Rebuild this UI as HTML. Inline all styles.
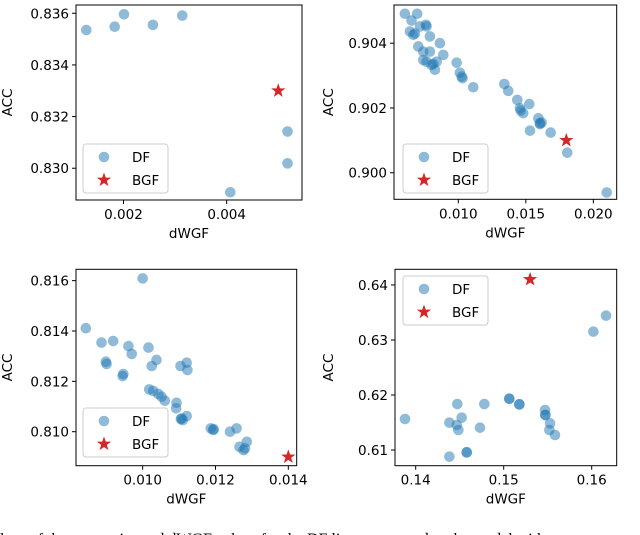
<!DOCTYPE html>
<html><head><meta charset="utf-8">
<style>
html,body{margin:0;padding:0;background:#fff;width:640px;height:535px;overflow:hidden}
svg{display:block}
text{font-family:"DejaVu Sans","Liberation Sans",sans-serif;fill:#000}
.cap{font-family:"Liberation Serif",serif;font-size:16px}
</style></head>
<body>
<svg id="fig" width="640" height="535" viewBox="0 0 640 535">
<text class="cap" x="0" y="544">lues of the accuracies and dWGF values for the DF lines compared to the model with</text>
</svg>
<script>
// Panel 1 data
const p1DfX=[0.00128,0.00183,0.00201,0.00257,0.00314,0.00518,0.00518,0.00407];
const p1DfY=[0.83535,0.83548,0.83596,0.83555,0.83591,0.83142,0.83019,0.82907];
const p1StarX=[0.005];const p1StarY=[0.833];
const p1XTicks=[0.002,0.004];const p1XLabels=["0.002","0.004"];
const p1YTicks=[0.830,0.832,0.834,0.836];const p1YLabels=["0.830","0.832","0.834","0.836"];
// Panel 2 data
const p2DfX=[0.00605,0.00654,0.00696,0.00642,0.00679,0.00667,0.00716,0.00760,0.00765,0.0079,0.00704,0.00741,0.0079,0.00741,0.00765,0.00802,0.00815,0.00827,0.0084,0.00864,0.00889,0.00988,0.01012,0.01025,0.01032,0.01111,0.01341,0.0137,0.01437,0.01457,0.01462,0.01481,0.01526,0.01531,0.01593,0.01605,0.01617,0.01605,0.01684,0.01807,0.02099];
const p2DfY=[0.90491,0.9047,0.90491,0.90436,0.9043,0.90426,0.90452,0.90457,0.90452,0.90421,0.9039,0.90374,0.90374,0.90348,0.90343,0.90333,0.90336,0.90318,0.90343,0.904,0.90364,0.9034,0.90309,0.90297,0.90292,0.90264,0.90274,0.90253,0.90225,0.90199,0.90192,0.90184,0.90212,0.9013,0.90168,0.90153,0.90155,0.90150,0.90124,0.90062,0.89939];
const p2StarX=[0.018];const p2StarY=[0.901];
const p2XTicks=[0.010,0.015,0.020];const p2XLabels=["0.010","0.015","0.020"];
const p2YTicks=[0.900,0.902,0.904];const p2YLabels=["0.900","0.902","0.904"];
// Panel 3 data
const p3DfX=[0.01,0.00844,0.00887,0.00919,0.00961,0.0097,0.01016,0.01025,0.01038,0.00899,0.00901,0.00947,0.00945,0.01018,0.01029,0.01043,0.01052,0.01061,0.01093,0.01092,0.01107,0.0111,0.01121,0.01104,0.01121,0.01123,0.01187,0.01194,0.0124,0.01258,0.01266,0.01281,0.01286,0.01277,0.01195,0.01105];
const p3DfY=[0.81609,0.81411,0.81354,0.8136,0.8134,0.81309,0.81334,0.81261,0.81285,0.81278,0.81269,0.81229,0.81221,0.81168,0.81162,0.8115,0.81139,0.81123,0.81115,0.81093,0.81053,0.81046,0.81062,0.81261,0.81274,0.81245,0.81013,0.81007,0.81,0.81013,0.8094,0.80934,0.8096,0.80927,0.8101,0.81050];
const p3StarX=[0.014];const p3StarY=[0.809];
const p3XTicks=[0.010,0.012,0.014];const p3XLabels=["0.010","0.012","0.014"];
const p3YTicks=[0.810,0.812,0.814,0.816];const p3YLabels=["0.810","0.812","0.814","0.816"];
// Panel 4 data
const p4DfX=[0.13879,0.14383,0.14383,0.14473,0.14466,0.14485,0.14523,0.1458,0.1458,0.14731,0.1478,0.15064,0.15064,0.15178,0.15178,0.1547,0.15473,0.15473,0.15527,0.15519,0.15583,0.16019,0.16163];
const p4DfY=[0.61564,0.61497,0.60879,0.61836,0.61455,0.61364,0.61588,0.60958,0.60958,0.61406,0.61836,0.61933,0.61933,0.6183,0.6183,0.61727,0.61636,0.61636,0.61485,0.61364,0.61273,0.63152,0.63442];
const p4StarX=[0.153];const p4StarY=[0.641];
const p4XTicks=[0.14,0.15,0.16];const p4XLabels=["0.14","0.15","0.16"];
const p4YTicks=[0.61,0.62,0.63,0.64];const p4YLabels=["0.61","0.62","0.63","0.64"];

const NS="http://www.w3.org/2000/svg";
const fig=document.getElementById('fig');
function mk(tag,attrs,parent){const e=document.createElementNS(NS,tag);for(const k in attrs)e.setAttribute(k,attrs[k]);(parent||fig).appendChild(e);return e;}
function starPath(cx,cy,R){const r=R*0.4;let d="";for(let i=0;i<10;i++){const a=-Math.PI/2+i*Math.PI/5;const rr=i%2?r:R;d+=(i?"L":"M")+(cx+rr*Math.cos(a)).toFixed(2)+","+(cy+rr*Math.sin(a)).toFixed(2);}return d+"Z";}

function panel(id,box,xlim,ylim,dfX,dfY,sX,sY,xt,xl,yt,yl,leg){
  const g=mk('g',{});
  
  
  const [L,T,R,B]=box;
  const sx=v=>L+(v-xlim[0])/(xlim[1]-xlim[0])*(R-L);
  const sy=v=>B-(v-ylim[0])/(ylim[1]-ylim[0])*(B-T);
  for(let i=0;i<dfX.length;i++){
    const c=mk('circle',{cx:sx(dfX[i]),cy:sy(dfY[i]),r:5.3,fill:'#1f77b4','fill-opacity':0.5},g);
    
    
  }
  for(let i=0;i<sX.length;i++){
    const s=mk('path',{d:starPath(sx(sX[i]),sy(sY[i]),7.5),fill:'#d62728'},g);
    
    
  }
  const fr=mk('rect',{x:L,y:T,width:R-L,height:B-T,fill:'none',stroke:'#000','stroke-width':1},g);
  
  
  xt.forEach((v,i)=>{const x=sx(v);mk('line',{x1:x,y1:B,x2:x,y2:B+4,stroke:'#000'},g);
    const t=mk('text',{x:x,y:B+19,'text-anchor':'middle','font-size':13.5},g);t.textContent=xl[i];
    
    });
  yt.forEach((v,i)=>{const y=sy(v);mk('line',{x1:L,y1:y,x2:L-4,y2:y,stroke:'#000'},g);
    const t=mk('text',{x:L-7,y:y+5,'text-anchor':'end','font-size':13.5},g);t.textContent=yl[i];
    
    });
  const xa=mk('text',{x:(L+R)/2,y:B+38,'text-anchor':'middle','font-size':13.5},g);xa.textContent='dWGF';
  
  
  const ycx=(L<200?12:333), ycy=(T+B)/2;
  const ya=mk('text',{x:ycx,y:ycy,'text-anchor':'middle','font-size':13.5,transform:`rotate(-90 ${ycx} ${ycy})`},g);ya.textContent='ACC';
  
  
  const lg=mk('g',{},g);
  
  
  mk('rect',{x:leg[0],y:leg[1],width:85,height:49,rx:3,fill:'#fff','fill-opacity':0.8,stroke:'#ccc'},lg);
  mk('circle',{cx:leg[0]+21,cy:leg[1]+13,r:5.3,fill:'#1f77b4','fill-opacity':0.5},lg);
  mk('path',{d:starPath(leg[0]+21,leg[1]+36,7.5),fill:'#d62728'},lg);
  const t1=mk('text',{x:leg[0]+49,y:leg[1]+18,'font-size':13.5},lg);t1.textContent='DF';
  
  
  const t2=mk('text',{x:leg[0]+49,y:leg[1]+41,'font-size':13.5},lg);t2.textContent='BGF';
  
  
}
panel('panel-top-left',[76,5,302,200],[0.00108,0.00546],[0.82877,0.83632],p1DfX,p1DfY,p1StarX,p1StarY,p1XTicks,p1XLabels,p1YTicks,p1YLabels,[83,144]);
panel('panel-top-right',[394,5,616.7,199.3],[0.00524,0.02173],[0.89918,0.90518],p2DfX,p2DfY,p2StarX,p2StarY,p2XTicks,p2XLabels,p2YTicks,p2YLabels,[403,144]);
panel('panel-bottom-left',[76,269.3,296.7,465.7],[0.00817,0.01423],[0.80865,0.81645],p3DfX,p3DfY,p3StarX,p3StarY,p3XTicks,p3XLabels,p3YTicks,p3YLabels,[83,408]);
panel('panel-bottom-right',[395,269.3,616.7,465.7],[0.13765,0.16284],[0.60715,0.64285],p4DfX,p4DfY,p4StarX,p4StarY,p4XTicks,p4XLabels,p4YTicks,p4YLabels,[403,276]);
</script>
</body></html>
